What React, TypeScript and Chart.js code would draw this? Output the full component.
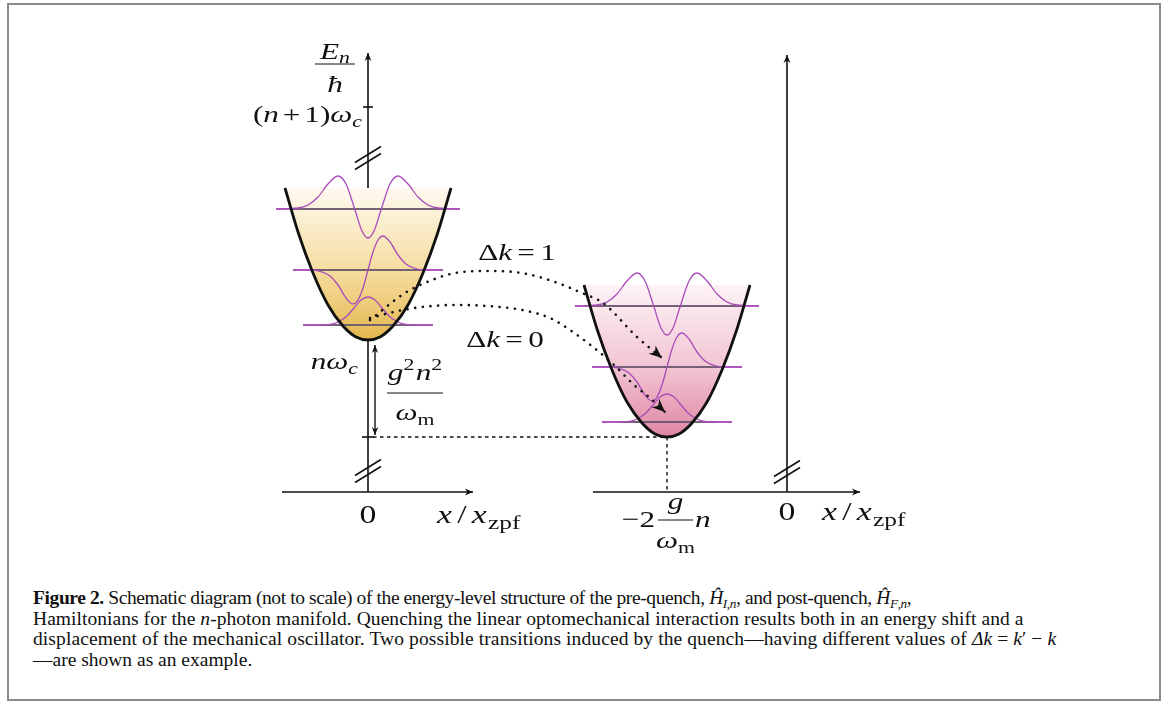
import { useEffect, useRef } from "react";
import Chart from "chart.js/auto";

// Schematic units: x along x/x_zpf (left origin = 0), y = energy (x-axis line = 0)
const wellCentres = [0, 299];
const wellBottoms = [152, 55];
const wellDepth = 152;
const wellX = [-83, -70, -55, -40, -25, -12, 0, 12, 25, 40, 55, 70, 83];
const wellRise = [152, 108, 67, 35, 14, 3, 0, 3, 14, 35, 67, 108, 152];

// k = 0, 1, 2 levels above the well bottom
const levelGaps = [15, 70, 131];
const levelHalf = [65, 75, 92];
const levelInner = [48, 56, 77];

const psi0X = [-65, -45, -35, -28, -21, -14, -7, 0, 7, 14, 21, 28, 35, 45, 65];
const psi0Y = [0, 0, 1, 4, 9, 17, 25, 28, 25, 17, 9, 4, 1, 0, 0];
const psi1X = [-75, -55, -46, -38, -30, -22, -15, -10, -5, 0, 5, 10, 15, 22, 30, 38, 46, 55, 75];
const psi1Y = [0, 0, -2, -6, -15, -28, -34, -30, -18, 0, 18, 30, 34, 28, 15, 6, 2, 0, 0];
const psi2X = [-92, -70, -60, -50, -40, -30, -22, -13, -6, 0, 6, 13, 22, 30, 40, 50, 60, 70, 92];
const psi2Y = [0, 1, 4, 12, 25, 33, 25, -1, -22, -29, -22, -1, 25, 33, 25, 12, 4, 1, 0];
const psiX = [psi0X, psi1X, psi2X];
const psiY = [psi0Y, psi1Y, psi2Y];

// the two quench transitions
const jump1X = [2, 37, 64, 87, 120, 154, 187, 214, 235, 269, 294];
const jump1Y = [172, 199, 212, 219, 221, 219, 210, 199, 189, 155, 134];
const jump0X = [2, 30, 54, 87, 120, 154, 182, 202, 225, 245, 265, 282, 297];
const jump0Y = [174, 181, 185, 187, 186, 182, 174, 162, 145, 128, 108, 94, 80];

const jumpLabels = ["1", "0"];
const zeroTick = "0";

const INK = "#111111";
const MAGENTA = "#a94bba";
const LEVEL_GREY = "#5c5c5c";
const wellTop = ["#fffaf0", "#fdf3f6"];
const wellMid = ["#f5dc9e", "#f2c4d2"];
const wellBase = ["#e4b84e", "#df86a2"];

const SERIF = '"Liberation Serif", "Times New Roman", serif';
const STRETCH = 1.3;

type Run = { t: string; it?: boolean; sc?: number; dy?: number; pad?: number };

const fontFor = (r: Run, size: number) =>
  `${r.it ? "italic " : ""}${(size * (r.sc ?? 1)).toFixed(2)}px ${SERIF}`;

function runsWidth(ctx: CanvasRenderingContext2D, runs: Run[], size: number) {
  let w = 0;
  for (const r of runs) {
    ctx.font = fontFor(r, size);
    w += (r.pad ?? 0) + ctx.measureText(r.t).width;
  }
  return w * STRETCH;
}

function drawRuns(ctx: CanvasRenderingContext2D, runs: Run[], x: number, y: number, size: number, align = "left") {
  const w = runsWidth(ctx, runs, size);
  const x0 = align === "center" ? x - w / 2 : align === "right" ? x - w : x;
  ctx.save();
  ctx.translate(x0, y);
  ctx.scale(STRETCH, 1);
  ctx.textAlign = "left";
  ctx.textBaseline = "alphabetic";
  let cx = 0;
  for (const r of runs) {
    ctx.font = fontFor(r, size);
    cx += r.pad ?? 0;
    ctx.fillText(r.t, cx, (r.dy ?? 0) * size);
    cx += ctx.measureText(r.t).width;
  }
  ctx.restore();
}

function drawFrac(ctx: CanvasRenderingContext2D, num: Run[], den: Run[], cx: number, barY: number, half: number, numY: number, denY: number, size: number) {
  drawRuns(ctx, num, cx, numY, size, "center");
  drawRuns(ctx, den, cx, denY, size, "center");
  ctx.beginPath();
  ctx.moveTo(cx - half, barY);
  ctx.lineTo(cx + half, barY);
  ctx.lineWidth = 1.2;
  ctx.stroke();
}

function arrowHead(ctx: CanvasRenderingContext2D, x0: number, y0: number, x1: number, y1: number, len: number, half: number) {
  const a = Math.atan2(y1 - y0, x1 - x0);
  ctx.save();
  ctx.translate(x1, y1);
  ctx.rotate(a);
  ctx.beginPath();
  ctx.moveTo(0, 0);
  ctx.lineTo(-len, -half);
  ctx.lineTo(-len * 0.7, 0);
  ctx.lineTo(-len, half);
  ctx.closePath();
  ctx.fill();
  ctx.restore();
}

function wellGradient(chart: any, w: number) {
  const { ctx, chartArea, scales } = chart;
  if (!chartArea) return "rgba(0,0,0,0)";
  const top = scales.y.getPixelForValue(wellBottoms[w] + wellDepth);
  const bot = scales.y.getPixelForValue(wellBottoms[w]);
  const g = ctx.createLinearGradient(0, top, 0, bot);
  g.addColorStop(0, wellTop[w]);
  g.addColorStop(0.55, wellMid[w]);
  g.addColorStop(1, wellBase[w]);
  return g;
}

const breaks = [
  { x: 0, y: 334 },
  { x: 0, y: 21 },
  { x: 419, y: 20 },
];

const decorPlugin = {
  id: "decor",
  afterDatasetsDraw(chart: any) {
    const { ctx, scales } = chart;
    const X = (v: number) => scales.x.getPixelForValue(v);
    const Y = (v: number) => scales.y.getPixelForValue(v);
    ctx.save();
    ctx.fillStyle = INK;
    ctx.strokeStyle = INK;

    // arrow heads
    chart.data.datasets.forEach((d: any, i: number) => {
      if (!d.arrow) return;
      const pts = chart.getDatasetMeta(i).data;
      const [len, half] = d.head || [8, 3.5];
      const a = pts[pts.length - 2], b = pts[pts.length - 1];
      arrowHead(ctx, a.x, a.y, b.x, b.y, len, half);
      if (d.arrow === "both") arrowHead(ctx, pts[1].x, pts[1].y, pts[0].x, pts[0].y, len, half);
    });

    // axis breaks
    ctx.lineWidth = 1.6;
    for (const b of breaks) {
      const cx = X(b.x), cy = Y(b.y);
      for (const off of [-3.5, 3.5]) {
        ctx.beginPath();
        ctx.moveTo(cx - 13, cy + 8 + off);
        ctx.lineTo(cx + 13, cy - 8 + off);
        ctx.stroke();
      }
    }

    const S = 24;
    // energy axis title and ticks
    drawFrac(ctx, [{ t: "E", it: true }, { t: "n", it: true, sc: 0.7, dy: 0.15 }], [{ t: "ħ", it: true }], X(-33), Y(428), 20, Y(433), Y(400), S);
    drawRuns(ctx, [{ t: "(" }, { t: "n", it: true }, { t: "+", pad: 3 }, { t: "1", pad: 3 }, { t: ")" }, { t: "ω", it: true }, { t: "c", it: true, sc: 0.7, dy: 0.2 }], X(-6), Y(370), S, "right");
    drawRuns(ctx, [{ t: "n", it: true }, { t: "ω", it: true }, { t: "c", it: true, sc: 0.7, dy: 0.2 }], X(-10), Y(123), S, "right");
    drawFrac(ctx, [{ t: "g", it: true }, { t: "2", sc: 0.7, dy: -0.4 }, { t: "n", it: true, pad: 1 }, { t: "2", sc: 0.7, dy: -0.4 }], [{ t: "ω", it: true }, { t: "m", sc: 0.7, dy: 0.2 }], X(47), Y(99), 28, Y(112), Y(72), S);

    // transition labels
    const dk = (v: string): Run[] => [{ t: "Δ" }, { t: "k", it: true }, { t: "=", pad: 4 }, { t: v, pad: 4 }];
    drawRuns(ctx, dk(jumpLabels[0]), X(149), Y(232), S, "center");
    drawRuns(ctx, dk(jumpLabels[1]), X(137), Y(145), S, "center");

    // position axes labels
    const xl: Run[] = [{ t: "x", it: true }, { t: "/", pad: 4 }, { t: "x", it: true, pad: 4 }, { t: "zpf", sc: 0.75, dy: 0.22, pad: 1 }];
    drawRuns(ctx, [{ t: zeroTick }], X(0), Y(-31), S + 2, "center");
    drawRuns(ctx, xl, X(69), Y(-31), S + 2);
    drawRuns(ctx, [{ t: zeroTick }], X(419), Y(-28), S + 2, "center");
    drawRuns(ctx, xl, X(454), Y(-28), S + 2);
    drawRuns(ctx, [{ t: "−" }, { t: "2" }], X(287), Y(-35), S, "right");
    drawFrac(ctx, [{ t: "g", it: true }], [{ t: "ω", it: true }, { t: "m", sc: 0.7, dy: 0.2 }], X(307.5), Y(-28), 17.5, Y(-17), Y(-56), S);
    drawRuns(ctx, [{ t: "n", it: true }], X(327), Y(-35), S);
    ctx.restore();
  },
};

function buildDatasets() {
  const ds: any[] = [];
  const add = (d: any) => ds.push({ pointRadius: 0, fill: false, borderWidth: 1.5, borderColor: INK, ...d });
  const wellPts = (w: number) => wellX.map((x, i) => ({ x: wellCentres[w] + x, y: wellBottoms[w] + wellRise[i] }));

  wellCentres.forEach((c, w) => {
    add({
      data: wellPts(w),
      borderWidth: 0,
      borderColor: "rgba(0,0,0,0)",
      cubicInterpolationMode: "monotone",
      fill: { value: wellBottoms[w] + wellDepth },
      backgroundColor: (ctx: any) => wellGradient(ctx.chart, w),
    });
    levelGaps.forEach((gap, k) => {
      const y = wellBottoms[w] + gap;
      add({ data: [{ x: c - levelHalf[k], y }, { x: c + levelHalf[k], y }], borderColor: MAGENTA });
      add({ data: [{ x: c - levelInner[k], y }, { x: c + levelInner[k], y }], borderColor: LEVEL_GREY });
      add({
        data: psiX[k].map((x, i) => ({ x: c + x, y: y + psiY[k][i] })),
        borderColor: MAGENTA,
        borderWidth: 1.3,
        cubicInterpolationMode: "monotone",
      });
    });
    add({ data: wellPts(w), borderWidth: 2.8, cubicInterpolationMode: "monotone" });
  });

  const dotted = { borderWidth: 2.6, borderDash: [0.1, 7.6], borderCapStyle: "round", cubicInterpolationMode: "monotone", arrow: "end", head: [13, 5.5] };
  add({ ...dotted, data: jump1X.map((x, i) => ({ x, y: jump1Y[i] })) });
  add({ ...dotted, data: jump0X.map((x, i) => ({ x, y: jump0Y[i] })) });

  // guide lines from the displaced minimum
  const dash = { borderWidth: 1.4, borderDash: [3.5, 3.5] };
  add({ ...dash, data: [{ x: 5, y: wellBottoms[1] }, { x: wellCentres[1], y: wellBottoms[1] }] });
  add({ ...dash, data: [{ x: wellCentres[1], y: wellBottoms[1] }, { x: wellCentres[1], y: 0 }] });

  // axes
  const axis = { borderWidth: 1.6 };
  add({ ...axis, data: [{ x: -86, y: 0 }, { x: 105, y: 0 }], arrow: "end" });
  add({ ...axis, data: [{ x: 225, y: 0 }, { x: 492, y: 0 }], arrow: "end" });
  add({ ...axis, data: [{ x: 0, y: 0 }, { x: 0, y: wellBottoms[0] }] });
  add({ ...axis, data: [{ x: 0, y: wellBottoms[0] + wellDepth }, { x: 0, y: 439 }], arrow: "end" });
  add({ ...axis, data: [{ x: 419, y: 0 }, { x: 419, y: 437 }], arrow: "end" });
  add({ ...axis, borderWidth: 1.4, data: [{ x: 7, y: 57 }, { x: 7, y: 147 }], arrow: "both", head: [8, 3.2] });
  add({ ...axis, data: [{ x: -5, y: 385 }, { x: 5, y: 385 }] });
  add({ ...axis, data: [{ x: -6, y: wellBottoms[1] }, { x: 6, y: wellBottoms[1] }] });

  ds.forEach((d, i) => (d.order = ds.length - i));
  return ds;
}

export default function App() {
  const canvasRef = useRef<HTMLCanvasElement>(null);

  useEffect(() => {
    if (!canvasRef.current) return;
    const chart = new Chart(canvasRef.current, {
      type: "line",
      data: { datasets: buildDatasets() },
      options: {
        animation: false,
        responsive: true,
        maintainAspectRatio: false,
        events: [],
        layout: { padding: 0 },
        plugins: { legend: { display: false }, tooltip: { enabled: false } },
        scales: {
          x: { type: "linear", min: -359, max: 791, display: false },
          y: { type: "linear", min: -83, max: 487, display: false },
        },
      },
      plugins: [decorPlugin],
    } as any);
    return () => chart.destroy();
  }, []);

  const sub = { fontSize: "0.68em", verticalAlign: "-0.3em", lineHeight: 0 };

  return (
    <div
      style={{
        position: "absolute",
        left: 7,
        top: 3,
        width: 1154,
        height: 698,
        boxSizing: "border-box",
        border: "2px solid #8c8c8c",
        background: "#fff",
      }}
    >
      <div style={{ position: "absolute", left: 0, top: 0, width: 1150, height: 570 }}>
        <canvas ref={canvasRef}></canvas>
      </div>
      <div
        style={{
          position: "absolute",
          left: 24,
          top: 583,
          fontFamily: SERIF,
          fontSize: 19.5,
          lineHeight: "20.5px",
          color: "#111",
          whiteSpace: "nowrap",
        }}
      >
        <div style={{ letterSpacing: "-0.4px" }}>
          <b>Figure 2.</b> Schematic diagram (not to scale) of the energy-level structure of the pre-quench, <i>Ĥ</i>
          <span style={sub}><i>I</i>,<i>n</i></span>, and post-quench, <i>Ĥ</i>
          <span style={sub}><i>F</i>,<i>n</i></span>,
        </div>
        <div style={{ letterSpacing: "0.05px" }}>
          Hamiltonians for the <i>n</i>-photon manifold. Quenching the linear optomechanical interaction results both in an energy shift and a
        </div>
        <div style={{ letterSpacing: "0.1px" }}>
          displacement of the mechanical oscillator. Two possible transitions induced by the quench—having different values of <i>Δk</i> = <i>k</i>′ − <i>k</i>
        </div>
        <div>—are shown as an example.</div>
      </div>
    </div>
  );
}
